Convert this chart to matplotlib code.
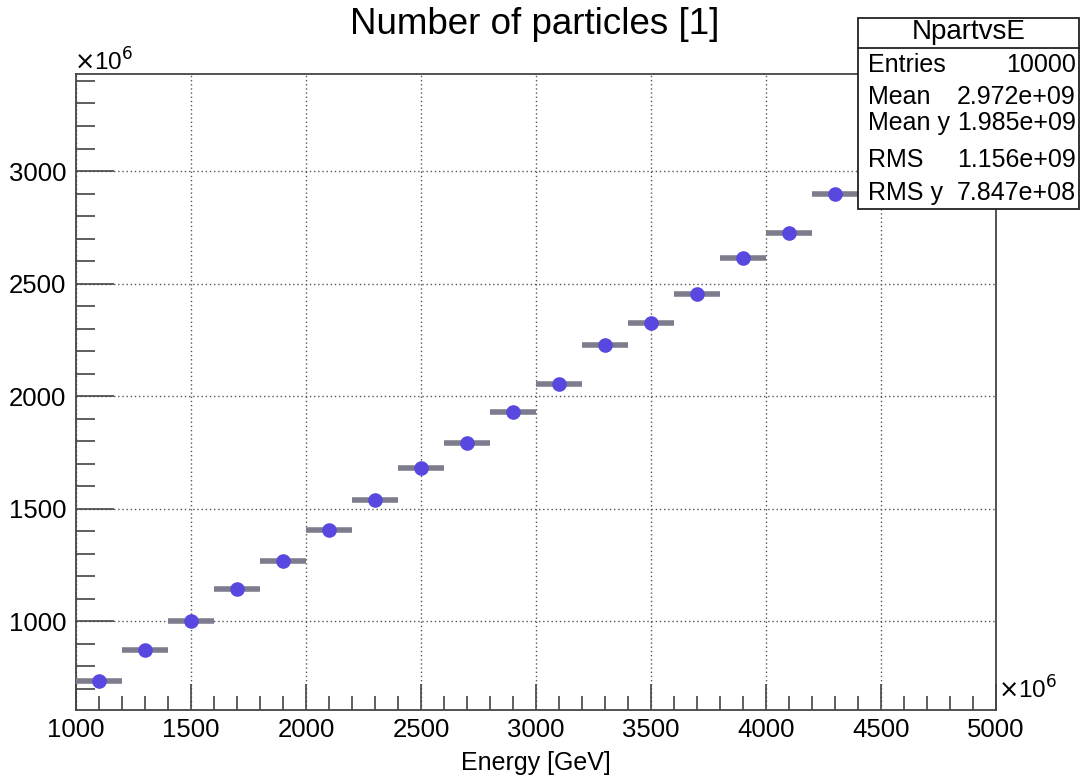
"""Number of particles vs energy, ROOT style profile plot"""

import matplotlib
matplotlib.use("Agg")
import matplotlib.pyplot as plt
from matplotlib.ticker import MultipleLocator

plt.rcParams['font.family'] = ['Liberation Sans', 'DejaVu Sans']

# bin centres (x1e6 GeV) and mean number of particles (x1e6)
energy = [1100, 1300, 1500, 1700, 1900, 2100, 2300, 2500, 2700,
          2900, 3100, 3300, 3500, 3700, 3900, 4100, 4300]
npart = [733, 874, 1000, 1145, 1267, 1405, 1538, 1680, 1793,
         1930, 2053, 2228, 2325, 2455, 2614, 2726, 2898]
bin_half = [100] * len(energy)

stats_names = ["Entries", "Mean", "Mean y", "RMS", "RMS y"]
stats_values = ["10000", "2.972e+09", "1.985e+09", "1.156e+09", "7.847e+08"]

fig = plt.figure(figsize=(10.86, 7.8), dpi=100)
ax = fig.add_axes([76 / 1086, 70 / 780, 920 / 1086, 636 / 780])

ax.errorbar(energy, npart, xerr=bin_half, fmt='o', color='#5848e0',
            markersize=9.5, ecolor='#7c7c8c', elinewidth=4, capsize=0, zorder=3)

ax.set_xlim(1000, 5000)
ax.set_ylim(606, 3431)
ax.xaxis.set_major_locator(MultipleLocator(500))
ax.xaxis.set_minor_locator(MultipleLocator(100))
ax.yaxis.set_major_locator(MultipleLocator(500))
ax.yaxis.set_minor_locator(MultipleLocator(100))
ax.tick_params(axis='both', which='both', direction='in', top=False, right=False,
               labelsize=18.5, color='#444444')
ax.tick_params(axis='x', which='major', length=19, width=1.2)
ax.tick_params(axis='x', which='minor', length=10, width=1.2)
ax.tick_params(axis='y', which='major', length=27, width=1.2)
ax.tick_params(axis='y', which='minor', length=14, width=1.2)
ax.tick_params(axis='x', pad=6)
ax.tick_params(axis='y', pad=7)
for sp in ax.spines.values():
    sp.set_color('#444444')
    sp.set_linewidth(1.3)
ax.grid(True, which='major', linestyle=(0, (1, 2)), color='#555555', linewidth=1)

ax.set_xlabel("Energy [GeV]", fontsize=18, labelpad=6)
fig.text(350 / 1086, 1 - 25 / 780, "Number of particles [1]", fontsize=26.5,
         ha='left', va='center')
fig.text(74 / 1086, 1 - 62 / 780, r"$\times$10$^6$", fontsize=17.5, ha='left', va='center')
fig.text(998 / 1086, 1 - 690 / 780, r"$\times$10$^6$", fontsize=17.5, ha='left', va='center')

# stats box
bx0, by0, bx1, by1 = 858, 18, 1079, 209
box = plt.Rectangle((bx0 / 1086, 1 - by1 / 780), (bx1 - bx0) / 1086, (by1 - by0) / 780,
                    transform=fig.transFigure, facecolor='white', edgecolor='#222222',
                    linewidth=1.3, zorder=5)
fig.add_artist(box)
fig.add_artist(plt.Line2D([bx0 / 1086, bx1 / 1086], [1 - 48 / 780, 1 - 48 / 780],
                          transform=fig.transFigure, color='#222222', linewidth=1.3, zorder=6))
fig.text((bx0 + bx1) / 2 / 1086, 1 - 32 / 780, "NpartvsE", fontsize=20,
         ha='center', va='center', zorder=7)
row_y = [65, 97, 123, 160, 193]
for name, val, yy in zip(stats_names, stats_values, row_y):
    fig.text(868 / 1086, 1 - yy / 780, name, fontsize=18, ha='left', va='center', zorder=7)
    fig.text(1076 / 1086, 1 - yy / 780, val, fontsize=18, ha='right', va='center', zorder=7)

fig.savefig("out.png", dpi=100)
